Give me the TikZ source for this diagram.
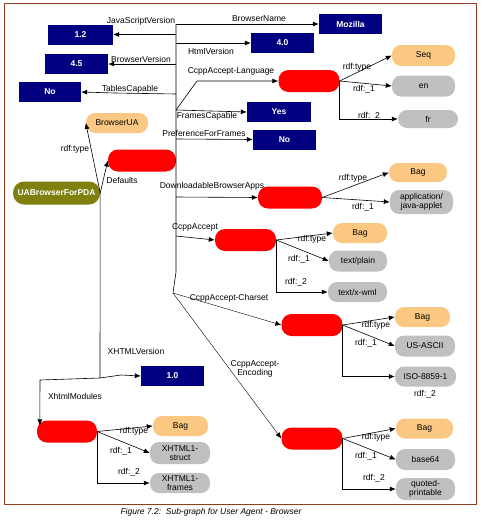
\documentclass[tikz,border=0pt]{standalone}
\usepackage{fontspec}
\setmainfont{Liberation Sans}
\usetikzlibrary{
    arrows.meta,
    positioning,
    calc
}

\definecolor{navy}{RGB}{0,0,128}
\definecolor{resred}{RGB}{255,0,0}
\definecolor{classorange}{RGB}{250,200,130}
\definecolor{valuegray}{RGB}{192,192,192}
\definecolor{rootolive}{RGB}{128,128,16}
\definecolor{framebrown}{RGB}{150,60,30}

\begin{document}
\begin{tikzpicture}[
    x=1pt, y=-1pt,
    lbl/.style={font=\fontsize{8.5}{9}\selectfont, inner sep=0pt},
    literal/.style={
      fill=navy, text=white,
      font=\fontsize{8.5}{9}\selectfont\bfseries,
      minimum width=63pt, minimum height=20pt, inner sep=0pt
    },
    resource/.style={
      fill=resred, rounded corners=10pt,
      minimum width=61pt, minimum height=22pt, inner sep=0pt
    },
    classnode/.style={
      fill=classorange, rounded corners=9pt,
      font=\fontsize{8.5}{8.5}\selectfont,
      minimum width=56pt, minimum height=20pt, inner sep=0pt
    },
    valuenode/.style={
      fill=valuegray, rounded corners=9pt, align=center,
      font=\fontsize{8.5}{8.5}\selectfont,
      minimum width=60pt, minimum height=21pt, inner sep=0pt
    },
    prop/.style={-{Latex[length=6pt,width=5pt]}, line width=0.6pt},
    thinprop/.style={-{Latex[length=6pt,width=5pt]}, line width=0.4pt}
  ]

  \useasboundingbox (0,0) rectangle (482,520);
  \draw[framebrown, line width=1pt] (4,3) rectangle (476,504);
  \node[font=\fontsize{8.5}{9}\selectfont\itshape] (caption) at (211,512)
    {Figure 7.2:\ \ Sub-graph for User Agent - Browser};

  % root {{{
  \node[
    fill=rootolive, text=white, rounded corners=11pt,
    font=\fontsize{8.5}{9}\selectfont\bfseries,
    minimum width=87pt, minimum height=23pt, inner sep=0pt
  ] (pda) at (56.5,193) {UABrowserForPDA};
  \node[classnode, minimum width=62pt] (bua) at (117,123) {BrowserUA};
  \node[resource, minimum width=68pt] (dflt) at (142,160.5) {};
  \draw[prop] (pda.east) -- (bua.west);
  \node[lbl] (l-type) at (75,149) {rdf:type};
  \draw[prop] (pda.east) -- (dflt.west);
  \node[lbl] (l-dflt) at (122,180) {Defaults};
  % }}}

  % trunk {{{
  \coordinate (t-top) at (176,24);
  \coordinate (t-fork) at (173,293);
  \draw[line width=0.6pt] (t-top) -- (176,272) -- (t-fork);
  % }}}

  % browser literals {{{
  \node[literal] (moz) at (350.5,24) {Mozilla};
  \draw[prop] (t-top) -- (moz.west);
  \node[lbl] (l-bn) at (259,19) {BrowserName};

  \node[literal, minimum width=65pt] (js) at (80.5,34.5) {1.2};
  \draw[prop] (176,34.5) -- (js.east);
  \node[lbl] (l-js) at (141,21) {JavaScriptVersion};

  \node[literal] (html) at (282.5,43) {4.0};
  \draw[prop] (176,43) -- (html.west);
  \node[lbl] (l-html) at (211,51) {HtmlVersion};

  \node[literal] (bv) at (76.5,64) {4.5};
  \draw[prop] (176,64) -- (bv.east);
  \node[lbl] (l-bv) at (141,59) {BrowserVersion};

  \node[literal, minimum width=62pt] (tc) at (50,92) {No};
  \draw[prop] (176,94) -- (115,93) -- (tc.east);
  \node[lbl] (l-tc) at (130,89) {TablesCapable};

  \node[literal, minimum width=64pt] (yes) at (279,112) {Yes};
  \draw[prop] (176,110) -- (yes.west);
  \node[lbl] (l-fc) at (207,116) {FramesCapable};

  \node[literal] (pff) at (284.5,139.5) {No};
  \draw[prop] (176,139) -- (pff.west);
  \node[lbl] (l-pff) at (204,133) {PreferenceForFrames};
  % }}}

  % CcppAccept-Language {{{
  \node[resource] (lang) at (309,81) {};
  \draw[prop] (176,110) -- (197,81) -- (lang.west);
  \node[lbl] (l-lang) at (231,71) {CcppAccept-Language};
  \node[classnode, minimum width=63pt, minimum height=21pt] (seq) at (423.5,55.5) {Seq};
  \node[valuenode, minimum width=63pt] (en) at (423.5,86) {en};
  \node[valuenode, minimum height=18pt] (fr) at (428,119) {fr};
  \draw[prop] (lang.east) -- (seq.west);
  \node[lbl] (l-lang-t) at (357,67) {rdf:type};
  \draw[prop] (lang.east) -- (en.west);
  \node[lbl] (l-lang-1) at (364,89) {rdf:\_1};
  \draw[prop] (lang.east) |- (fr.west);
  \node[lbl] (l-lang-2) at (369,116) {rdf:\_2};
  % }}}

  % DownloadableBrowserApps {{{
  \node[resource, minimum width=64pt] (dba) at (290,197.5) {};
  \draw[prop] (176,197) -- (dba.west);
  \node[lbl] (l-dba) at (212,186) {DownloadableBrowserApps};
  \node[classnode, minimum width=58pt, minimum height=19pt] (dbag) at (418,172.5) {Bag};
  \node[valuenode, minimum width=63pt, minimum height=24pt] (japp) at (421.5,202)
    {application/\\java-applet};
  \draw[prop] (dba.east) -- (dbag.west);
  \node[lbl] (l-dba-t) at (353,178) {rdf:type};
  \draw[prop] (dba.east) -- (japp.west);
  \node[lbl] (l-dba-1) at (363,207) {rdf:\_1};
  % }}}

  % CcppAccept {{{
  \node[resource] (acc) at (245.5,240) {};
  \draw[prop] (176,236) -- (acc.west);
  \node[lbl] (l-acc) at (195,227) {CcppAccept};
  \node[classnode, minimum width=54pt] (abag) at (360,233) {Bag};
  \node[valuenode, minimum width=58pt] (tplain) at (358,261) {text/plain};
  \node[valuenode, minimum width=59pt, minimum height=20pt] (twml) at (357.5,292) {text/x-wml};
  \draw[prop] (acc.east) -- (abag.west);
  \node[lbl] (l-acc-t) at (312,239) {rdf:type};
  \draw[prop] (acc.east) -- (tplain.west);
  \node[lbl] (l-acc-1) at (299,259) {rdf:\_1};
  \draw[prop] (acc.east) |- (twml.west);
  \node[lbl] (l-acc-2) at (296,282) {rdf:\_2};
  % }}}

  % CcppAccept-Charset {{{
  \node[resource] (cs) at (312,325) {};
  \draw[thinprop] (t-fork) -- (cs.west);
  \node[lbl] (l-cs) at (229,298) {CcppAccept-Charset};
  \node[classnode, minimum width=55pt] (cbag) at (422.5,317) {Bag};
  \node[valuenode] (ascii) at (425,346) {US-ASCII};
  \node[valuenode, minimum width=61pt, minimum height=20pt] (iso) at (425.5,376.5) {ISO-8859-1};
  \draw[prop] (cs.east) -- (cbag.west);
  \node[lbl] (l-cs-t) at (376,325) {rdf:type};
  \draw[prop] (cs.east) -- (ascii.west);
  \node[lbl] (l-cs-1) at (366,343) {rdf:\_1};
  \draw[prop] (cs.east) |- (iso.west);
  \node[lbl] (l-cs-2) at (425,394) {rdf:\_2};
  % }}}

  % CcppAccept-Encoding {{{
  \node[resource] (enc) at (312,438.5) {};
  \draw[thinprop] (t-fork) -- (enc.west);
  \node[lbl, align=center] (l-enc) at (255,369) {CcppAccept-\\Encoding};
  \node[classnode, minimum width=57pt] (ebag) at (424.5,428.5) {Bag};
  \node[valuenode, minimum width=59pt] (b64) at (425.5,459.5) {base64};
  \node[valuenode, minimum width=59pt, minimum height=22pt] (qp) at (425.5,489)
    {quoted-\\printable};
  \draw[prop] (enc.east) -- (ebag.west);
  \node[lbl] (l-enc-t) at (376,437) {rdf:type};
  \draw[prop] (enc.east) -- (b64.west);
  \node[lbl] (l-enc-1) at (366,456) {rdf:\_1};
  \draw[prop] (enc.east) |- (qp.west);
  \node[lbl] (l-enc-2) at (374,478) {rdf:\_2};
  % }}}

  % XHTML {{{
  \coordinate (split) at (100,378);
  \draw[line width=0.6pt] (pda.east) -- (split);
  \node[literal] (ver) at (172.5,376) {1.0};
  \draw[prop] (split) -- (121,375) -- (ver.west);
  \node[lbl] (l-ver) at (136,351) {XHTMLVersion};
  \node[resource, minimum width=60pt] (xm) at (67,431.5) {};
  \draw[prop] (split) -- (40,380) -- ([xshift=3pt,yshift=-5pt]xm.north west);
  \node[lbl] (l-xm) at (75,396) {XhtmlModules};
  \node[classnode, minimum width=55pt] (xbag) at (180.5,426) {Bag};
  \node[valuenode, minimum height=22pt] (xstruct) at (180,453) {XHTML1-\\struct};
  \node[valuenode, minimum height=20pt] (xframes) at (180,483) {XHTML1-\\frames};
  \draw[prop] (xm.east) -- (xbag.west);
  \node[lbl] (l-xm-t) at (134,431) {rdf:type};
  \draw[prop] (xm.east) -- (xstruct.west);
  \node[lbl] (l-xm-1) at (121,451) {rdf:\_1};
  \draw[prop] (xm.east) |- (xframes.west);
  \node[lbl] (l-xm-2) at (129,472) {rdf:\_2};
  % }}}

\end{tikzpicture}
\end{document}
